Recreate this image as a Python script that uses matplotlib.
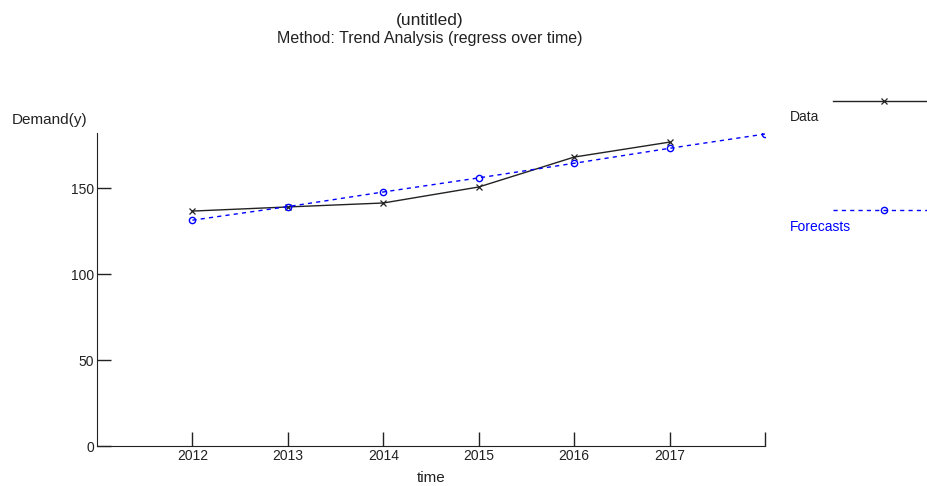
import matplotlib.pyplot as plt
from matplotlib.lines import Line2D

plt.rcParams['font.family'] = ['Liberation Sans', 'DejaVu Sans']

years = [2012, 2013, 2014, 2015, 2016, 2017]
demand = [136.6, 139.0, 141.3, 150.6, 168.0, 176.7]
forecast_years = [2012, 2013, 2014, 2015, 2016, 2017, 2018]
forecasts = [131.3, 139.2, 147.7, 155.9, 164.4, 173.1, 181.4]
x_ticks = [2012, 2013, 2014, 2015, 2016, 2017, 2018]
x_tick_labels = ['2012', '2013', '2014', '2015', '2016', '2017', '']
y_ticks = [0, 50, 100, 150]

W, H = 928, 486
fig = plt.figure(figsize=(W / 100, H / 100), dpi=100)
ax = fig.add_axes([97 / W, 1 - 446 / H, (765 - 97) / W, (446 - 133) / H])

ax.plot(years, demand, color='#222222', lw=1.0, marker='x', ms=4.5, mew=0.9)
ax.plot(forecast_years, forecasts, color='#0000ff', lw=1.0, ls=(0, (3, 3)),
        marker='o', ms=4.5, mfc='none', mew=1.0)

ax.set_xlim(2011, 2018)
ax.set_ylim(0, 182)
ax.set_xticks(x_ticks)
ax.set_xticklabels(x_tick_labels)
ax.set_yticks(y_ticks)
for s in ['top', 'right']:
    ax.spines[s].set_visible(False)
for s in ['left', 'bottom']:
    ax.spines[s].set_color('#222222')
ax.tick_params(direction='in', length=10, width=1, color='#222222',
               labelcolor='#222222', labelsize=10, pad=2)
ax.set_xlabel('time', fontsize=11, labelpad=6, color='#222222')

fig.text(12 / W, 1 - 120 / H, 'Demand(y)', fontsize=11, va='center', ha='left',
         color='#222222')
fig.text(430 / W, 1 - 20 / H, '(untitled)', fontsize=12.5, ha='center', va='center',
         color='#222222')
fig.text(430 / W, 1 - 38 / H, 'Method: Trend Analysis (regress over time)',
         fontsize=11.5, ha='center', va='center', color='#222222')

# legend
fig.add_artist(Line2D([833 / W, 1.0], [1 - 101 / H] * 2, transform=fig.transFigure,
                      color='#222222', lw=1.0))
fig.add_artist(Line2D([884 / W], [1 - 101 / H], transform=fig.transFigure,
                      color='#222222', marker='x', ms=4.5, mew=0.9))
fig.text(790 / W, 1 - 117 / H, 'Data', fontsize=10, va='center', ha='left',
         color='#222222')
fig.add_artist(Line2D([833 / W, 1.0], [1 - 210 / H] * 2, transform=fig.transFigure,
                      color='#0000ff', lw=1.0, ls=(0, (3, 3))))
fig.add_artist(Line2D([884 / W], [1 - 210 / H], transform=fig.transFigure,
                      color='#0000ff', marker='o', ms=4.5, mfc='none', mew=1.0))
fig.text(790 / W, 1 - 227 / H, 'Forecasts', fontsize=10, va='center', ha='left',
         color='#0000ff')

fig.savefig('out.png', dpi=100)
